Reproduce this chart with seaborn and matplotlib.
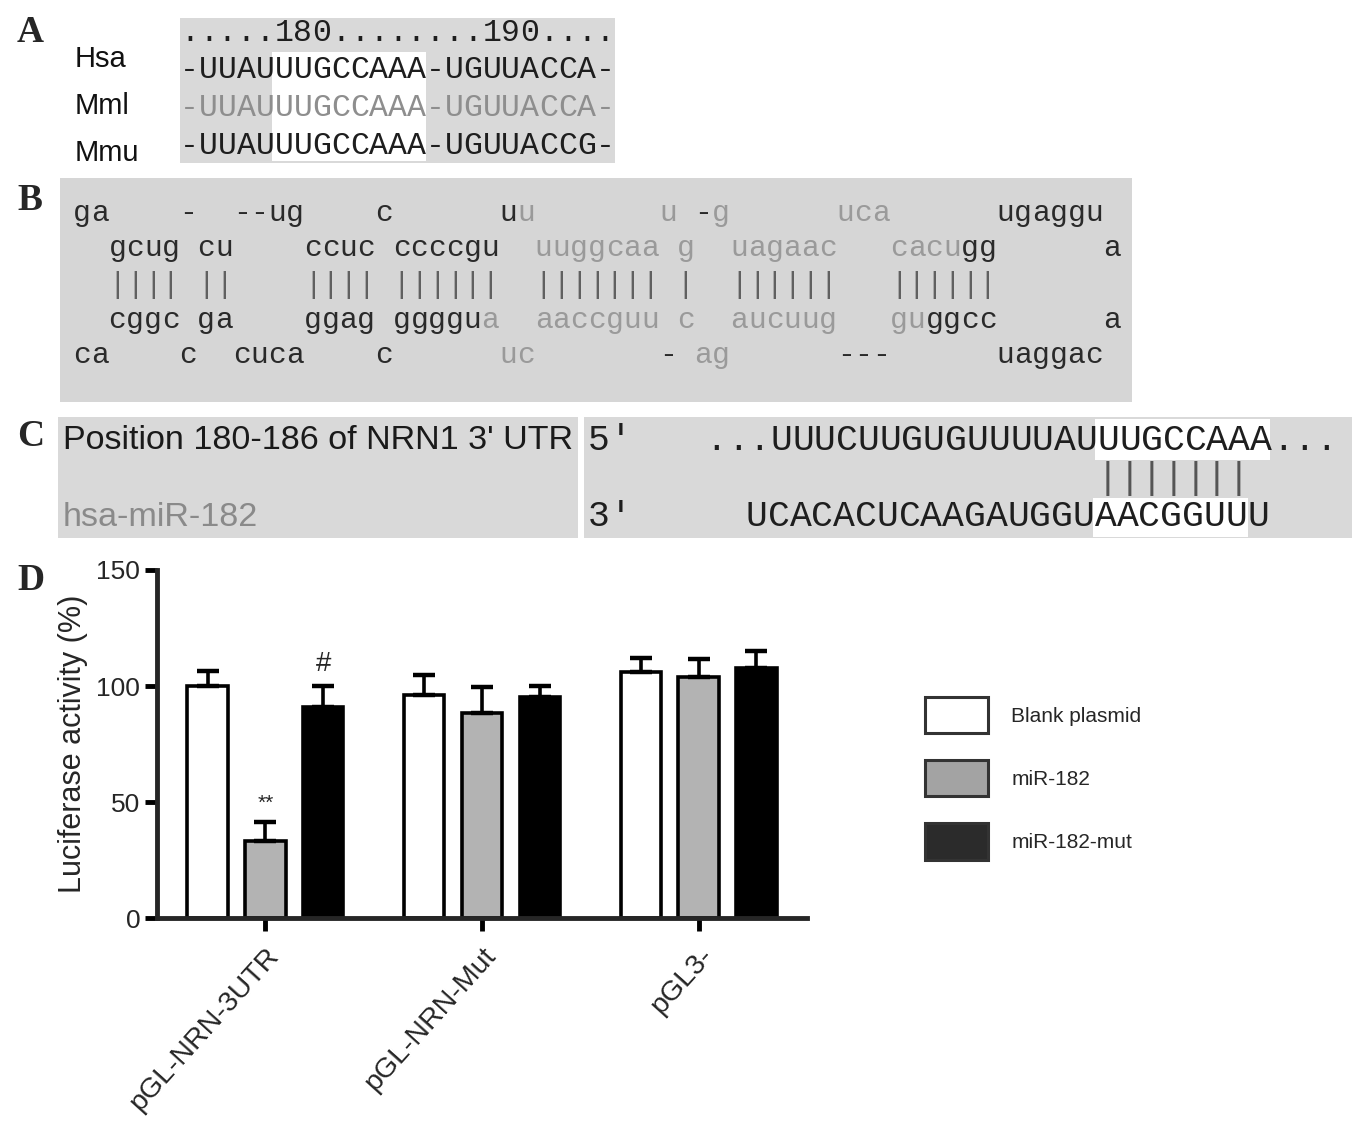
import numpy as np
import pandas as pd
import matplotlib
matplotlib.use("Agg")
import matplotlib.pyplot as plt
import seaborn as sns
from matplotlib.patches import Rectangle, Patch

# ---------------- data ----------------
# panel A: conservation of the seed site
a_header = ".....180........190...."[:23]
a_species = ["Hsa", "Mml", "Mmu"]
a_seqs = ["-UUAUUUGCCAAA-UGUUACCA-",
          "-UUAUUUGCCAAA-UGUUACCA-",
          "-UUAUUUGCCAAA-UGUUACCG-"]
a_seq_colors = ["#1e1e1e", "#8e8e8e", "#1e1e1e"]

# panel B: pre-miR-182 hairpin
b_rows = ["ga    -  --ug    c      uu       u -g      uca      ugaggu",
          "  gcug cu    ccuc ccccgu  uuggcaa g  uagaac   cacugg      a",
          "  |||| ||    |||| ||||||  ||||||| |  ||||||   ||||||",
          "  cggc ga    ggag ggggua  aaccguu c  aucuug   guggcc      a",
          "ca    c  cuca    c      uc       - ag      ---      uaggac"]
# columns printed in light grey (mature miR-182-5p / -3p)
b_grey_cols = [[25, 33, 36, 43, 44, 45],
               list(range(26, 33)) + [34] + list(range(37, 43)) + [46, 47, 48, 49],
               [],
               [23] + list(range(26, 33)) + [34] + list(range(37, 43)) + [46, 47],
               [24, 25, 35, 36]]

# panel C: target site
c_names = ["Position 180-186 of NRN1 3' UTR", "hsa-miR-182"]
c_ends = ["5'", "3'"]
c_utr = "...UUUCUUGUGUUUUAUUUGCCAAA..."
c_pairs = "|||||||"
c_mir = "UCACACUCAAGAUGGUAACGGUUU"

# panel D: luciferase assay
constructs = ["pGL-NRN-3UTR", "pGL-NRN-Mut", "pGL3-"]
treatments = ["Blank plasmid", "miR-182", "miR-182-mut"]
activity = [[100.0, 33.0, 91.0],
            [96.2, 88.5, 95.2],
            [106.0, 103.8, 107.6]]
sd = [[6.6, 8.5, 8.9],
      [8.4, 11.0, 4.8],
      [6.0, 7.9, 7.6]]
marks = {("pGL-NRN-3UTR", "miR-182"): "**", ("pGL-NRN-3UTR", "miR-182-mut"): "#"}
bar_colors = {"Blank plasmid": "white", "miR-182": "#b3b3b3", "miR-182-mut": "black"}
legend_colors = ["white", "#a3a3a3", "#2b2b2b"]

df = pd.DataFrame({
    "construct": np.repeat(constructs, len(treatments)),
    "treatment": treatments * len(constructs),
    "activity": np.ravel(activity),
    "sd": np.ravel(sd),
})

# ---------------- figure ----------------
sns.set_style("ticks")
plt.rcParams["font.family"] = ["Liberation Sans", "DejaVu Sans"]

W, H = 1368, 1124
fig = plt.figure(figsize=(W / 100, H / 100), dpi=100)


def fp(x, y):
    return x / W, 1 - y / H


def box(x0, y0, x1, y1, color):
    fig.patches.append(Rectangle(fp(x0, y1), (x1 - x0) / W, (y1 - y0) / H,
                                 transform=fig.transFigure, facecolor=color,
                                 edgecolor="none", zorder=0))


def mono(text, x0, y, cw, color, grey=(), grey_color="#9a9a9a"):
    fs = cw / 0.6 * 0.72
    for i, ch in enumerate(text):
        if ch == " ":
            continue
        fig.text(*fp(x0 + i * cw + cw / 2, y), ch, family="Liberation Mono",
                 fontsize=fs, color=grey_color if i in grey else color,
                 ha="center", va="center")


label_kw = dict(family="Liberation Serif", fontweight="bold", fontsize=27, va="center")
for lab, yy in zip("ABCD", [33, 200, 437, 580]):
    fig.text(*fp(17, yy), lab, **label_kw)

# panel A
box(180, 18, 615, 163, "#d9d9d9")
box(272, 52, 426, 161, "white")
cw_a = 18.9
mono(a_header, 180, 33, cw_a, "#1e1e1e")
for i, (sp, seq, col) in enumerate(zip(a_species, a_seqs, a_seq_colors)):
    fig.text(*fp(75, 59 + 47 * i), sp, fontsize=21, va="center", color="#111111")
    mono(seq, 180, 70 + 38 * i, cw_a, col)

# panel B
box(60, 178, 1132, 402, "#d6d6d6")
cw_b = 17.76
for i, (row, grey) in enumerate(zip(b_rows, b_grey_cols)):
    y = [213, 248, 285, 320, 355][i]
    base = "#606060" if "|" in row else "#2a2a2a"
    mono(row, 73, y, cw_b, base, grey)

# panel C
box(58, 417, 578, 538, "#d9d9d9")
box(584, 417, 1352, 538, "#d9d9d9")
box(1095, 419, 1270, 460, "white")
box(1093, 498, 1248, 537, "white")
fig.text(*fp(63, 440), c_names[0], fontsize=24.6, va="center", color="#1a1a1a")
fig.text(*fp(63, 517), c_names[1], fontsize=24.6, va="center", color="#8a8a8a")
cw_c = 21.8
mono(c_ends[0], 588, 440, cw_c, "#1e1e1e")
mono(c_ends[1], 588, 517, cw_c, "#1e1e1e")
mono(c_utr, 705, 440, cw_c, "#1e1e1e")
mono(c_pairs, 1097, 478, cw_c, "#555555")
mono(c_mir, 746, 517, cw_c, "#1e1e1e")

# panel D
ax = fig.add_axes([157 / W, 1 - 918 / H, 650 / W, 348 / H])
sns.barplot(data=df, x="construct", y="activity", hue="treatment",
            hue_order=treatments, order=constructs, palette=bar_colors,
            saturation=1, edgecolor="black", linewidth=2.6, gap=0.3,
            errorbar=None, legend=False, ax=ax)

for cont, trt in zip(ax.containers, treatments):
    sub = df[df["treatment"] == trt].set_index("construct").loc[constructs]
    xs = [b.get_x() + b.get_width() / 2 for b in cont]
    ax.errorbar(xs, sub["activity"], yerr=[np.zeros(len(xs)), sub["sd"]],
                fmt="none", ecolor="black", elinewidth=2.6, capsize=8,
                capthick=3.2, zorder=1)
    for x, (cons, row) in zip(xs, sub.iterrows()):
        if (cons, trt) in marks:
            ax.text(x, row["activity"] + row["sd"] + 4, marks[(cons, trt)],
                    ha="center", va="bottom", fontsize=20 if trt == "miR-182-mut" else 15)

ax.set_ylim(0, 150)
ax.set_xlim(-0.5, 2.5)
ax.set_yticks([0, 50, 100, 150])
ax.set_xlabel("")
ax.set_ylabel("Luciferase activity (%)", fontsize=22, labelpad=6)
sns.despine(ax=ax)
for s in ["left", "bottom"]:
    ax.spines[s].set_linewidth(3.5)
ax.tick_params(axis="both", width=3.5, length=9, color="black")
ax.tick_params(axis="y", labelsize=19, pad=3)
ax.set_xticks(range(len(constructs)))
ax.set_xticklabels(constructs, rotation=48, ha="right", rotation_mode="anchor",
                   fontsize=20.5)
ax.tick_params(axis="x", pad=9)

handles = [Patch(facecolor=c, edgecolor="#333333", linewidth=2.2) for c in legend_colors]
fig.legend(handles, treatments, loc="upper left", bbox_to_anchor=fp(925, 697),
           frameon=False, fontsize=15, handlelength=3.0, handleheight=2.29,
           labelspacing=1.3, handletextpad=1.15, borderpad=0, borderaxespad=0)

fig.savefig("out.png", dpi=100)
